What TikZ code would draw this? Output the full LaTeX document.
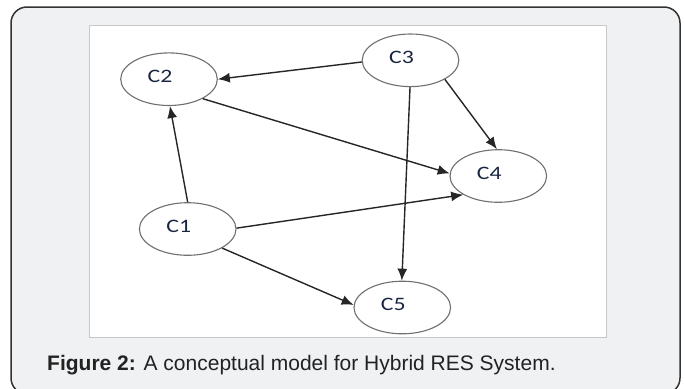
\documentclass[tikz,border=0pt]{standalone}
\usepackage{fontspec}
\setmainfont{Liberation Sans}
\newfontfamily\nodefont[FakeStretch=1.25]{Carlito}
\usetikzlibrary{shapes.geometric, arrows.meta}
\definecolor{panelgray}{HTML}{F0F1F3}
\definecolor{framegray}{HTML}{333333}
\definecolor{boxgray}{HTML}{C8C8C8}
\definecolor{ellgray}{HTML}{707070}
\definecolor{labelblue}{HTML}{1A2540}
\definecolor{captiongray}{HTML}{222222}

\begin{document}
\begin{tikzpicture}
[x=1pt, y=-1pt,
concept/.style={ellipse, draw=ellgray, line width=1.1pt, fill=white, minimum width=96.6pt, minimum height=52.6pt, inner sep=0pt,
                font=\nodefont\fontsize{19pt}{19pt}\selectfont, text=labelblue,
                execute at end node={\hspace*{18pt}\rule[-6pt]{0pt}{6pt}}},
line/.style={draw=black!85, line width=1.4pt, -{Latex[length=12pt,width=10pt]}},
panel/.style={fill=panelgray, draw=framegray, line width=1.5pt, rounded corners=16pt},
sheet/.style={fill=white, draw=boxgray, line width=1pt}]

\useasboundingbox (0,0) rectangle (685,388);
\path[panel] (11,7) rectangle (680,394);
\path[sheet] (89,25) rectangle (606,337);

\node[concept] (c2) at (169,79.2) {C2};
\node[concept] (c3) at (410.5,60.3) {C3};
\node[concept] (c4) at (498.3,176) {C4};
\node[concept] (c1) at (187.7,229) {C1};
\node[concept] (c5) at (402.3,307.5) {C5};

\path[line] (c3.182) -- (c2.0);
\path[line] (c2.-30) -- (c4.177);
\path[line] (c1.90) -- (c2.-88);
\path[line] (c1.1) -- (c4.208);
\path[line] (c1.-29) -- (c5.177);
\path[line] (c3.-29) -- (c4.93);
\path[line] (c3.269) -- (c5.91);

\node[anchor=base west, inner sep=0pt, text=captiongray, font=\fontsize{21pt}{21pt}\selectfont] (caption) at (47,370)
  {\textbf{Figure 2:} A conceptual model for Hybrid RES System.};
\end{tikzpicture}
\end{document}
